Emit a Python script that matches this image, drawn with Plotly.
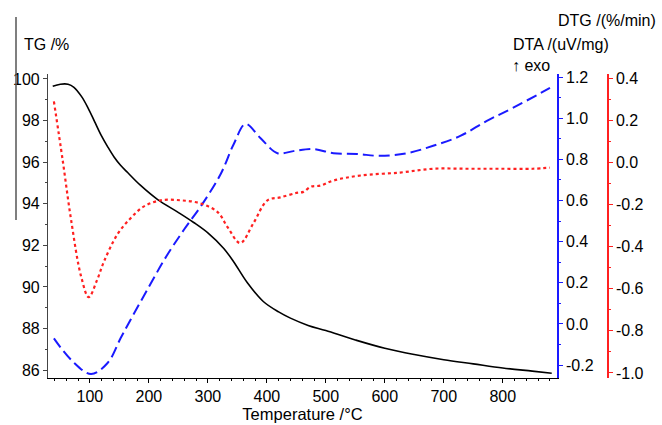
import plotly.graph_objects as go

# TG (black, left axis)
tg_T = [37, 50, 63, 73, 86, 97, 108, 119, 130, 141, 152, 164, 186, 215, 249, 276, 300, 327, 344, 367, 394, 420, 440, 470, 500, 550, 600, 650, 700, 750, 800, 850, 883]
tg_v = [99.65, 99.75, 99.75, 99.6, 99.15, 98.6, 97.95, 97.3, 96.75, 96.25, 95.85, 95.5, 94.88, 94.2, 93.6, 93.1, 92.6, 91.85, 91.2, 90.2, 89.3, 88.8, 88.5, 88.15, 87.9, 87.45, 87.05, 86.75, 86.5, 86.3, 86.1, 85.95, 85.85]

# DTA (blue dashed, right axis 1)
dta_T = [39, 70, 102, 130, 152, 169, 200, 230, 260, 290, 322, 344, 364, 389, 418, 445, 479, 513, 553, 592, 638, 682, 728, 773, 817, 880]
dta_v = [-0.07, -0.18, -0.244, -0.19, -0.07, 0.02, 0.18, 0.33, 0.46, 0.58, 0.73, 0.875, 0.972, 0.904, 0.83, 0.84, 0.85, 0.83, 0.826, 0.817, 0.83, 0.866, 0.914, 0.987, 1.05, 1.147]

# DTG (red dotted, right axis 2)
dtg_T = [39, 54, 68, 85, 98, 112, 124, 147, 169, 191, 220, 254, 288, 317, 334, 355, 377, 401, 423, 450, 462, 475, 491, 513, 559, 626, 682, 740, 795, 851, 880]
dtg_v = [0.29, 0.008, -0.27, -0.54, -0.64, -0.56, -0.47, -0.34, -0.265, -0.21, -0.18, -0.18, -0.195, -0.237, -0.31, -0.383, -0.29, -0.18, -0.166, -0.145, -0.14, -0.115, -0.11, -0.086, -0.062, -0.048, -0.03, -0.03, -0.03, -0.03, -0.025]

x_ticks = [100, 200, 300, 400, 500, 600, 700, 800]
tg_ticks = [86, 88, 90, 92, 94, 96, 98, 100]
dta_ticks = [-0.2, 0.0, 0.2, 0.4, 0.6, 0.8, 1.0, 1.2]
dtg_ticks = [-1.0, -0.8, -0.6, -0.4, -0.2, 0.0, 0.2, 0.4]

FONT = "Liberation Sans, Arial, sans-serif"
TICKFONT = dict(family=FONT, size=16, color="black")

fig = go.Figure()
fig.add_trace(go.Scatter(x=tg_T, y=tg_v, mode="lines", line=dict(color="black", width=1.6, shape="spline"), yaxis="y"))
fig.add_trace(go.Scatter(x=dta_T, y=dta_v, mode="lines", line=dict(color="#1a1aff", width=2, dash="11px,5px", shape="spline"), yaxis="y2"))
fig.add_trace(go.Scatter(x=dtg_T, y=dtg_v, mode="lines", line=dict(color="#ff2020", width=2.2, dash="dot", shape="spline"), yaxis="y3"))

def fmt(v):
    return "%.1f" % v

fig.update_layout(
    width=662, height=425,
    margin=dict(l=48, r=54, t=74, b=47),
    paper_bgcolor="white", plot_bgcolor="white",
    showlegend=False,
    font=dict(family=FONT, size=16, color="black"),
    xaxis=dict(domain=[0, 0.909], range=[29, 892], tickvals=x_ticks, ticktext=[str(t) for t in x_ticks],
               showline=True, linecolor="black", linewidth=1.2, ticks="outside", ticklen=4, tickcolor="black",
               showgrid=False, zeroline=False, tickfont=TICKFONT, anchor="y", automargin=False,
               minor=dict(dtick=20, ticks="outside", ticklen=2, tickcolor="black"),
               title=dict(text="Temperature /°C", font=dict(family=FONT, size=16.5), standoff=0)),
    yaxis=dict(range=[85.62, 100.24], tickvals=tg_ticks, ticktext=[str(t) for t in tg_ticks],
               showline=True, linecolor="#444", linewidth=1.2, ticks="outside", ticklen=4, tickcolor="#444",
               showgrid=False, zeroline=False, tickfont=TICKFONT, anchor="x", automargin=False,
               minor=dict(dtick=1, ticks="outside", ticklen=2, tickcolor="#444")),
    yaxis2=dict(range=[-0.263, 1.215], tickvals=dta_ticks, ticktext=[fmt(t) for t in dta_ticks],
                overlaying="y", side="right", anchor="x", automargin=False,
                showline=True, linecolor="#1a1aff", linewidth=1.5, ticks="outside", ticklen=4, tickcolor="#1a1aff",
                showgrid=False, zeroline=False, tickfont=TICKFONT,
                minor=dict(dtick=0.1, tick0=0, ticks="outside", ticklen=2, tickcolor="#1a1aff")),
    yaxis3=dict(range=[-1.024, 0.42], tickvals=dtg_ticks, ticktext=[fmt(t) for t in dtg_ticks],
                overlaying="y", side="right", anchor="free", position=1.0, automargin=False,
                showline=True, linecolor="#ff2020", linewidth=1.5, ticks="outside", ticklen=4, tickcolor="#ff2020",
                showgrid=False, zeroline=False, tickfont=TICKFONT,
                minor=dict(dtick=0.1, tick0=0, ticks="outside", ticklen=2, tickcolor="#ff2020")),
)

def px(x):
    return (x - 48) / 560.0

def py(y):
    return (378 - y) / 304.0

ann_font = dict(family=FONT, size=16, color="black")
fig.add_annotation(text="TG /%", xref="paper", yref="paper", x=px(22), y=py(45), xanchor="left", yanchor="middle", showarrow=False, font=ann_font)
fig.add_annotation(text="DTA /(uV/mg)", xref="paper", yref="paper", x=px(611), y=py(45), xanchor="right", yanchor="middle", showarrow=False, font=ann_font)
fig.add_annotation(text="DTG /(%/min)", xref="paper", yref="paper", x=px(658), y=py(20), xanchor="right", yanchor="middle", showarrow=False, font=ann_font)
fig.add_annotation(text="↑ exo", xref="paper", yref="paper", x=px(510), y=py(65), xanchor="left", yanchor="middle", showarrow=False, font=ann_font)

fig.add_shape(type="line", xref="paper", yref="paper", x0=px(16), x1=px(16), y0=py(220), y1=py(17),
              line=dict(color="#555", width=1.5))

fig.write_html("out.html", config={"displayModeBar": False},
               post_script="document.body.style.margin='0';document.body.style.padding='0';")
